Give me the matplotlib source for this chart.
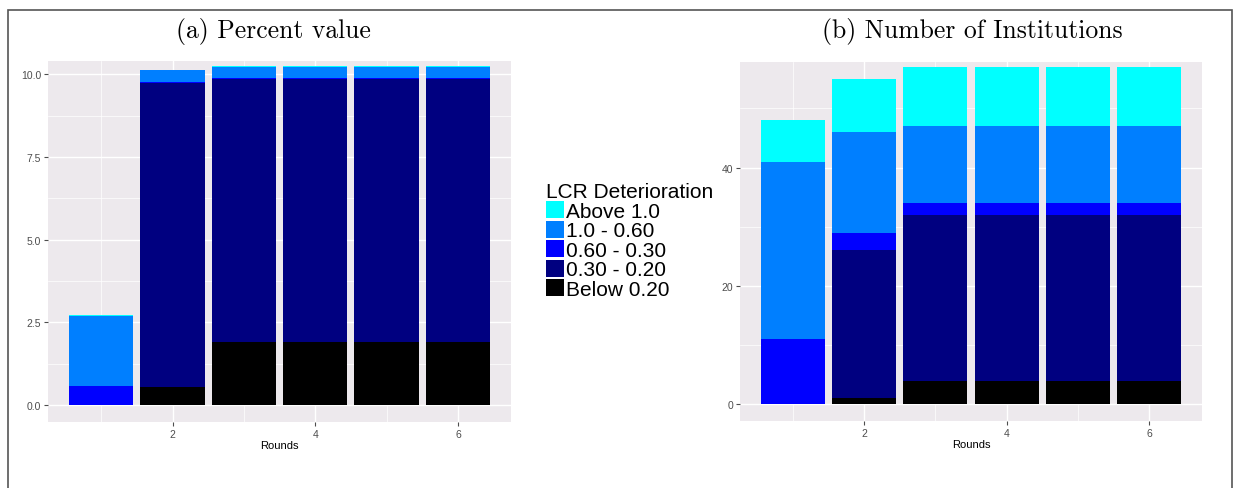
import matplotlib
matplotlib.use('Agg')
import numpy as np
import matplotlib.pyplot as plt
from matplotlib.patches import Patch, Rectangle

rounds = [1, 2, 3, 4, 5, 6]
categories = ["Above 1.0", "1.0 - 0.60", "0.60 - 0.30", "0.30 - 0.20", "Below 0.20"]
colors = ["#00FFFF", "#007FFF", "#0000FF", "#000080", "#000000"]

# (a) percent value, per category (top to bottom of legend)
pct_above = [0.03, 0.02, 0.02, 0.02, 0.02, 0.02]
pct_1006 = [2.11, 0.36, 0.34, 0.34, 0.34, 0.34]
pct_0603 = [0.58, 0.03, 0.03, 0.03, 0.03, 0.03]
pct_0302 = [0.00, 9.18, 7.95, 7.95, 7.95, 7.95]
pct_below = [0.00, 0.55, 1.90, 1.90, 1.90, 1.90]

# (b) number of institutions
num_above = [7, 9, 10, 10, 10, 10]
num_1006 = [30, 17, 13, 13, 13, 13]
num_0603 = [11, 3, 2, 2, 2, 2]
num_0302 = [0, 25, 28, 28, 28, 28]
num_below = [0, 1, 4, 4, 4, 4]

pct = [pct_above, pct_1006, pct_0603, pct_0302, pct_below]
num = [num_above, num_1006, num_0603, num_0302, num_below]

fig = plt.figure(figsize=(12.38, 4.89), dpi=100)
ax1 = fig.add_axes([0.0388, 0.135, 0.374, 0.738])
ax2 = fig.add_axes([0.5977, 0.137, 0.3732, 0.734])


def stacked(ax, series, ylim, yticks, yminor, ylabels):
    bottom = np.zeros(len(rounds))
    # stack from the bottom category upward
    for vals, col in zip(series[::-1], colors[::-1]):
        ax.bar(rounds, vals, width=0.9, bottom=bottom, color=col, zorder=3)
        bottom += np.array(vals)
    ax.set_facecolor("#EDE9ED")
    ax.set_xlim(0.255, 6.745)
    ax.set_ylim(*ylim)
    ax.set_xticks([2, 4, 6])
    ax.set_xticks([1, 3, 5], minor=True)
    ax.set_yticks(yticks)
    ax.set_yticklabels(ylabels)
    ax.set_yticks(yminor, minor=True)
    ax.grid(True, which="major", color="white", linewidth=1.0, zorder=0)
    ax.grid(True, which="minor", color="white", linewidth=0.5, zorder=0)
    ax.set_axisbelow(True)
    for s in ax.spines.values():
        s.set_visible(False)
    ax.tick_params(which="major", length=3, color="#4D4D4D", labelsize=7.5,
                   labelcolor="#4D4D4D", pad=2)
    ax.tick_params(which="minor", length=0)
    for lab in ax.get_xticklabels() + ax.get_yticklabels():
        lab.set_family("Liberation Sans")
    ax.set_xlabel("Rounds", fontsize=8, family="Liberation Sans", labelpad=1)


stacked(ax1, pct, (-0.51, 10.40), [0, 2.5, 5, 7.5, 10], [1.25, 3.75, 6.25, 8.75],
        ["0.0", "2.5", "5.0", "7.5", "10.0"])
stacked(ax2, num, (-2.85, 57.85), [0, 20, 40], [10, 30, 50], ["0", "20", "40"])

fig.text(0.2205, 0.935, "(a) Percent value", family="cmr10", fontsize=18.5,
         ha="center", va="center")
fig.text(0.785, 0.935, "(b) Number of Institutions", family="cmr10", fontsize=18.5,
         ha="center", va="center")

handles = [Patch(facecolor=c, edgecolor="none") for c in colors]
leg = fig.legend(handles, categories, loc="upper left", bbox_to_anchor=(0.441, 0.625),
                 frameon=False, title="LCR Deterioration", alignment="left",
                 prop={"family": "Liberation Sans", "size": 15},
                 title_fontproperties={"family": "Liberation Sans", "size": 15},
                 handlelength=0.85, handleheight=0.85, handletextpad=0.1,
                 labelspacing=0.0, borderpad=0, borderaxespad=0)

# outer frame
fig.patches.append(Rectangle((8 / 1238, -0.05), 1224 / 1238, 1.04 - 5.7 / 489,
                             transform=fig.transFigure, fill=False,
                             edgecolor="#555555", linewidth=1.2))

plt.savefig("out.png", dpi=100)
